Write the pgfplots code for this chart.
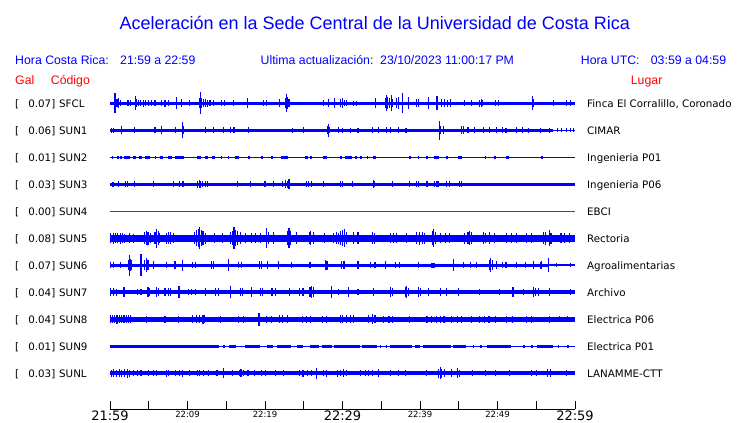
\documentclass[border=0pt]{standalone}
\usepackage{fontspec}
\setmainfont{DejaVu Sans}
\newfontfamily\hdr{Liberation Sans}
\usepackage{pgfplots}
\pgfplotsset{compat=1.18}
\definecolor{tb}{RGB}{0,0,255}
\definecolor{tr}{RGB}{255,0,0}
\pgfplotsset{
 spk/.style={draw=none, no markers, error bars/.cd, y dir=both, y explicit, error mark=none, error bar style={draw=tb, line width=1.1pt, solid}},
 blk/.style={draw=none, no markers, error bars/.cd, x dir=plus, x explicit, error mark=none, error bar style={draw=tb, line width=#1, solid}},
}
\newcommand\rowlab[4]{%
 \node[anchor=base west, inner sep=0pt] at (15pt,#1pt) {[};
 \node[anchor=base east, inner sep=0pt] at (55.5pt,#1pt) {#2]};
 \node[anchor=base west, inner sep=0pt] at (59pt,#1pt) {#3};
 \node[anchor=base west, inner sep=0pt] at (587pt,#1pt) {#4};}
\newcommand\bigt[1]{{\fontsize{13}{13}\selectfont #1}}
\newcommand\smt[1]{{\fontsize{8.5}{9}\selectfont #1}}
\begin{document}
\begin{tikzpicture}
\path[use as bounding box] (0pt,0pt) rectangle (740pt,423pt);
% header
\node[anchor=base, inner sep=0pt, text=tb, font=\hdr\fontsize{18}{20}\selectfont] at (374.8pt,393.7pt) {Aceleración en la Sede Central de la Universidad de Costa Rica};
\begin{scope}[every node/.style={anchor=base west, inner sep=0pt, font=\hdr\fontsize{12.3}{14}\selectfont}]
\node[text=tb] at (15pt,358pt) {Hora Costa Rica:};
\node[text=tb] at (120pt,358pt) {21:59 a 22:59};
\node[text=tb] at (260.5pt,358pt) {Ultima actualización:};
\node[text=tb] at (380pt,358pt) {23/10/2023 11:00:17 PM};
\node[text=tb] at (580.7pt,358pt) {Hora UTC:};
\node[text=tb] at (650.7pt,358pt) {03:59 a 04:59};
\node[text=tr] at (15pt,338pt) {Gal};
\node[text=tr] at (50.7pt,338pt) {Código};
\node[text=tr] at (630.7pt,338pt) {Lugar};
\end{scope}
\begin{scope}[font=\fontsize{10.3}{12}\selectfont]
\rowlab{315.7}{0.07}{SFCL}{Finca El Corralillo, Coronado}
\rowlab{288.7}{0.06}{SUN1}{CIMAR}
\rowlab{261.7}{0.01}{SUN2}{Ingenieria P01}
\rowlab{234.7}{0.03}{SUN3}{Ingenieria P06}
\rowlab{207.7}{0.00}{SUN4}{EBCI}
\rowlab{180.7}{0.08}{SUN5}{Rectoria}
\rowlab{153.7}{0.07}{SUN6}{Agroalimentarias}
\rowlab{126.7}{0.04}{SUN7}{Archivo}
\rowlab{99.7}{0.04}{SUN8}{Electrica P06}
\rowlab{72.7}{0.01}{SUN9}{Electrica P01}
\rowlab{45.7}{0.03}{SUNL}{LANAMME-CTT}
\end{scope}
\begin{axis}[at={(110pt,14pt)}, anchor=south west, scale only axis,
 width=465pt, height=321pt, xmin=0, xmax=60, ymin=-409, ymax=-88,
 axis x line*=bottom, axis y line=none, ytick=\empty,
 xtick={0,5,...,60},
 xticklabels={{\bigt{21:59}},{},{\smt{22:09}},{},{\smt{22:19}},{},{\bigt{22:29}},{},{\smt{22:39}},{},{\smt{22:49}},{},{\bigt{22:59}}},
 xticklabel style={anchor=north, inner sep=0pt, yshift=-2pt, text=black},
 tick align=inside, major tick length=8pt,
 every tick/.style={black, line width=0.9pt},
 axis line style={black, line width=0.9pt},
 clip=false]
% SFCL
\addplot[tb, line width=3.4pt] coordinates {(0,-103.3) (60,-103.3)};
\addplot[spk] table[row sep=\\, x=x, y expr=-103.3, y error=e] {x e\\
0.55 6\\0.65 10\\0.75 7\\0.9 4\\1.08 5\\1.3 3\\2.2 3\\2.4 3\\2.6 3\\3.3 7\\3.4 4\\3.7 3\\3.9 3\\4.3 3.5\\4.6 3\\5.0 3\\5.4 3\\5.8 3\\6.7 3\\7.1 3.5\\7.5 3\\8.6 6\\9.25 4\\10.3 3\\11.6 5\\11.7 11\\11.8 5\\12.1 4\\12.3 4\\12.6 3.5\\12.9 3\\13.3 3\\14.4 3\\14.8 3\\15.9 3\\17.7 5\\19.8 3\\20.2 3\\21.9 4\\22.7 5\\22.8 9\\22.9 6\\23.1 4\\27.5 3\\28.2 4\\29.0 5\\29.7 4\\30.0 5\\30.3 3\\30.5 3\\31.4 2.5\\31.8 2.5\\34.3 5\\35.6 5\\35.7 8\\35.85 6\\36.1 5\\36.3 8\\36.5 4\\37.0 5\\37.2 6\\37.72 10\\38.5 6\\39.6 4\\39.8 4\\41.1 6\\42.2 7\\42.8 4\\43.2 4\\43.6 3.5\\43.9 4\\45.8 3\\46.7 3\\47.7 3.5\\47.9 4\\48.1 3\\49.7 3\\50.1 3\\54.5 7\\54.7 4\\57.2 3\\58.9 3\\59.4 3\\};
% SUN1
\addplot[tb, line width=1.2pt] coordinates {(0,-130.3) (60,-130.3)};
\addplot[tb, line width=3.3pt] coordinates {(0,-130.3) (57.2,-130.3)};
\addplot[spk] table[row sep=\\, x=x, y expr=-130.3, y error=e] {x e\\
0.2 2.5\\0.5 2.5\\1.5 4\\3.2 3\\5.8 3\\6.7 4\\8.4 3\\9.33 8\\9.45 4\\12.3 3\\13.3 3\\14.6 3\\15.5 3\\16.0 3\\17.85 3\\23.6 2.5\\24.95 3\\28.1 4\\28.2 6.5\\28.35 3\\29.5 3\\30.0 2.5\\31.0 2.5\\32.0 2.5\\33.9 3\\34.7 3\\35.7 3\\36.2 3\\37.2 3\\38.2 2.5\\42.5 9.5\\42.65 4\\43.0 4\\45.3 4\\45.6 4\\46.2 3\\47.0 3\\48.2 3\\49.0 3\\49.9 3\\50.6 3\\51.1 2.5\\52.5 3\\53.2 3\\54.0 2.5\\55.5 2.5\\56.7 2.5\\57.7 2\\58.3 2\\58.9 2\\59.4 2\\59.8 2\\};
% SUN2
\addplot[tb, line width=1.2pt] coordinates {(0,-157.3) (60,-157.3)};
\addplot[blk=3pt] table[row sep=\\, x=s, y expr=-157.3, x error=l] {s l\\
0.2 0.15\\0.9 0.2\\1.3 0.2\\1.8 0.8\\3.0 0.3\\3.7 0.4\\4.5 0.6\\5.8 0.15\\6.4 0.5\\7.5 0.5\\8.4 1.2\\11.2 0.6\\12.3 0.3\\13.2 0.3\\14.3 0.2\\15.2 0.2\\16.1 0.5\\17.8 0.2\\19.5 0.2\\20.8 0.2\\22.1 0.9\\25.2 0.3\\25.8 0.2\\27.5 0.5\\29.7 0.3\\30.3 0.9\\31.6 0.3\\32.3 0.2\\33.1 0.2\\33.9 0.4\\38.6 0.2\\39.7 0.2\\40.8 0.2\\41.8 0.6\\43.4 0.15\\44.9 0.5\\48.4 0.15\\49.6 0.15\\51.1 0.4\\55.6 0.25\\};
% SUN3
\addplot[tb, line width=3.5pt] coordinates {(0,-184.3) (60,-184.3)};
\addplot[spk] table[row sep=\\, x=x, y expr=-184.3, y error=e] {x e\\
0.3 2.5\\0.5 2.5\\1.1 3\\2.0 3\\2.2 3\\3.2 3\\5.6 3\\8.2 3\\9.0 3\\9.3 3\\9.5 3\\11.3 3.5\\11.5 4\\11.7 3.5\\11.9 3\\12.3 3\\12.6 3\\16.5 3\\18.1 3\\20.0 3\\21.1 3\\22.3 3\\22.7 4\\22.9 3.5\\23.1 5\\23.2 3\\25.3 3\\25.6 3\\26.0 3\\27.5 3\\29.7 3\\30.0 3\\31.3 3\\34.0 4\\34.1 3\\36.4 3\\38.7 3\\39.6 3\\39.8 3\\40.9 3\\41.9 3\\42.2 3\\42.4 3\\43.4 3\\43.8 3\\45.1 3\\45.3 3\\};
% SUN4
\addplot[tr, line width=1pt] coordinates {(0,-211.3) (60,-211.3)};
% SUN5
\addplot[tb, line width=7pt] coordinates {(0,-238.3) (60,-238.3)};
\addplot[spk] table[row sep=\\, x=x, y expr=-238.3, y error=e] {x e\\
0.1 5\\0.4 5.5\\0.7 5\\1.0 5\\1.3 5.5\\1.6 5\\1.9 4.5\\2.5 5\\3.0 4.5\\4.5 6\\4.7 7\\4.9 6.5\\5.2 5\\5.8 6\\6.0 9.5\\6.2 7\\6.4 5\\7.3 5.5\\7.5 6\\7.8 6\\8.2 5\\10.9 6\\11.2 8\\11.4 9\\11.6 11\\11.8 8\\12.0 7\\12.3 5.5\\13.5 5\\14.5 5\\15.6 6\\15.8 7\\16.0 11\\16.2 8\\16.5 7\\16.8 6\\17.5 5\\18.3 5\\18.8 5\\19.4 5\\20.2 10\\20.4 6\\21.1 6\\22.9 7\\23.1 10\\23.3 7\\24.1 6\\25.7 6\\25.9 7\\26.2 6\\27.7 5\\28.8 5\\29.2 6\\29.5 5.5\\29.8 7\\30.0 8\\30.3 9\\30.5 6\\31.4 6\\32.0 6\\33.9 6\\34.1 5.5\\36.2 5\\36.6 5\\37.0 5\\38.3 5\\39.6 6\\39.9 6.5\\40.3 6\\40.6 5.5\\41.6 7\\41.8 9\\42.0 6\\42.7 5\\43.3 5\\43.8 5\\45.8 5.5\\46.2 6\\46.4 7\\46.6 6\\48.2 6\\48.5 5\\49.0 6\\49.6 5\\51.2 5\\51.8 5\\52.5 5\\53.8 5\\54.4 5\\55.9 6\\56.2 6.5\\56.7 8\\56.9 5.5\\58.2 5\\58.7 5\\59.3 5\\};
% SUN6
\addplot[tb, line width=1.8pt] coordinates {(0,-265.3) (60,-265.3)};
\addplot[tb, line width=3.4pt] coordinates {(0,-265.3) (56.6,-265.3)};
\addplot[spk] table[row sep=\\, x=x, y expr=-265.3, y error=e] {x e\\
0.1 3\\0.5 3\\1.3 3\\2.4 5\\2.5 10.5\\2.6 6\\2.8 5\\3.9 6\\4.0 11\\4.1 7\\4.5 5\\4.7 7\\4.9 5\\5.6 4\\7.3 3\\8.3 4\\8.5 4\\9.3 5.5\\10.6 3\\11.0 3\\13.1 4\\13.4 4\\15.3 6\\16.6 3\\17.0 3\\19.3 4\\19.6 4\\20.3 4\\21.7 4\\23.4 3\\25.8 3\\27.8 5\\28.0 4.5\\29.9 4\\30.2 4\\32.0 4\\33.6 3\\34.2 3\\35.5 4\\36.8 3\\37.4 3\\39.8 3\\41.5 2.7\\41.6 2.7\\41.7 2.7\\41.8 2.7\\41.9 2.7\\44.3 6\\45.6 3\\46.5 3\\47.3 3\\49.0 5\\49.12 7\\49.3 5\\49.9 4\\50.7 3\\51.1 3\\52.5 3\\53.6 3\\54.6 4\\55.5 3.5\\55.7 4\\56.56 7\\57.6 2\\59.4 2\\};
% SUN7
\addplot[tb, line width=4.2pt] coordinates {(0,-292.3) (60,-292.3)};
\addplot[spk] table[row sep=\\, x=x, y expr=-292.3, y error=e] {x e\\
0.1 4\\0.4 4\\0.8 3.5\\1.7 5\\1.9 5\\3.5 3\\4.0 3\\4.9 5\\5.1 4\\6.0 5\\6.2 4\\7.1 4\\7.5 4\\7.8 4\\8.9 6\\10.1 3\\10.5 3\\11.0 3\\12.3 4\\13.6 4\\14.0 4\\15.5 6\\16.8 4\\17.1 4\\18.3 5\\19.4 4\\19.7 4\\20.9 4\\21.3 4\\23.2 4\\24.5 4\\24.9 4\\25.8 5\\26.0 6\\26.2 5\\28.6 6\\29.5 3\\30.8 5\\32.0 3\\34.0 4\\36.2 5\\36.4 4\\38.1 5\\38.3 6\\38.5 4\\39.8 5\\40.1 4\\41.1 4\\42.6 4\\43.4 4\\45.0 4\\47.7 3\\50.3 3\\52.0 5\\53.3 3\\54.6 5\\54.9 4\\55.3 4\\56.7 4\\59.4 3\\};
% SUN8
\addplot[tb, line width=5pt] coordinates {(0,-319.3) (60,-319.3)};
\addplot[spk] table[row sep=\\, x=x, y expr=-319.3, y error=e] {x e\\
0.1 4\\0.3 4\\0.6 4\\0.9 4.5\\1.2 4\\1.5 4\\1.8 4\\2.1 4\\2.4 4\\2.7 4\\4.7 3.5\\7.1 3.5\\8.8 3.5\\10.6 4\\11.2 4\\11.6 4\\12.0 4.5\\12.2 4\\14.2 3.5\\16.6 3.5\\17.2 3.5\\19.23 6.5\\20.2 3.5\\20.8 3.5\\21.9 4\\22.3 4\\22.9 4\\24.8 3.5\\25.4 3.5\\25.9 3.5\\27.4 3.5\\27.9 3.5\\29.7 4\\30.0 4\\30.5 4\\31.0 4\\31.4 4\\33.4 4\\33.9 5\\34.2 4\\35.3 3.5\\36.0 3.5\\36.5 3.5\\38.7 3.5\\40.9 3.5\\41.5 3.5\\42.1 3.5\\42.6 3.5\\43.1 3.5\\44.1 3.5\\44.8 3.5\\45.4 3.5\\46.7 3.5\\47.7 3.5\\48.3 3.5\\48.9 3.5\\49.8 3.5\\51.2 3.5\\51.9 3.5\\53.7 3.5\\54.4 3.5\\56.7 3.5\\58.0 3\\59.0 3\\};
% SUN9
\addplot[tb, line width=1.3pt] coordinates {(0,-346.3) (60,-346.3)};
\addplot[blk=3pt] table[row sep=\\, x=s, y expr=-346.3, x error=l] {s l\\
0 14.0\\14.6 0.2\\15.3 1.0\\17.4 1.9\\20.2 0.8\\21.5 1.8\\24.1 0.8\\25.8 1.2\\27.3 1.3\\28.9 3.4\\32.5 1.9\\34.8 0.15\\35.6 0.15\\36.1 2.9\\39.4 0.6\\40.4 3.6\\44.3 1.7\\46.8 0.15\\47.7 0.3\\48.6 3.2\\53.3 0.3\\54.3 0.3\\55.1 2.1\\57.8 0.2\\59.0 0.2\\};
% SUNL
\addplot[tb, line width=4pt] coordinates {(0,-373.3) (60,-373.3)};
\addplot[spk] table[row sep=\\, x=x, y expr=-373.3, y error=e] {x e\\
0.2 3.5\\0.5 4\\0.8 3.5\\1.2 4\\1.5 3.5\\1.9 4\\2.3 4.5\\2.5 3.5\\3.0 3\\3.5 3\\4.0 3\\5.0 3\\5.6 3\\6.0 3\\7.3 3.5\\7.6 3\\8.4 3\\9.0 3\\9.4 3.5\\10.3 3\\11.3 3\\11.6 3\\12.1 3\\12.7 3\\13.8 3\\14.7 5\\15.8 3\\16.7 3\\16.9 4\\17.2 3\\17.8 3\\18.7 3\\19.6 3\\20.1 3\\21.4 3\\22.4 3\\24.5 3\\24.9 3.5\\25.5 3\\26.0 3\\26.7 5.5\\27.5 3\\27.9 3.5\\29.3 3.5\\29.7 3\\30.1 4\\30.5 3\\32.3 3\\33.0 3\\33.4 3\\33.9 3\\34.6 4\\36.2 3\\37.2 3\\38.1 3\\40.8 3\\42.4 4.5\\42.6 6\\42.8 4.5\\43.2 4\\44.1 4\\44.8 5\\45.1 3.5\\46.8 3\\48.5 3\\49.8 3\\51.6 3\\54.4 3\\55.0 3\\56.5 4\\56.8 4\\58.9 3\\};
\end{axis}
\end{tikzpicture}
\end{document}
